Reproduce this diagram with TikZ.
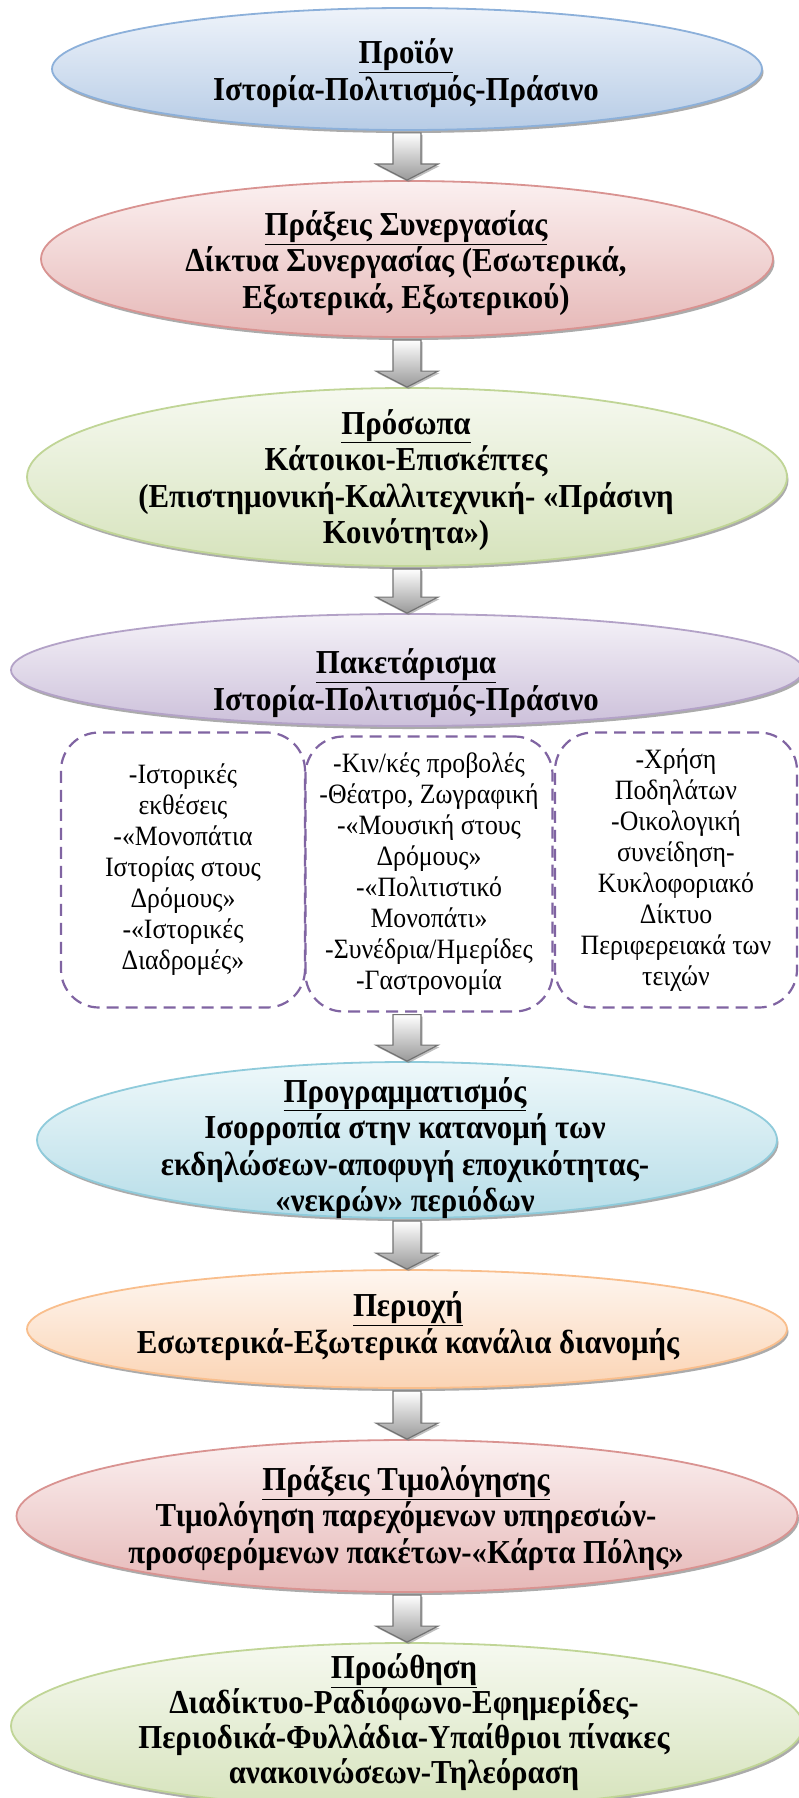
\documentclass[tikz,border=0pt]{standalone}
\usepackage{fontspec}
\setmainfont{Liberation Serif}[FakeStretch=0.92]
\usetikzlibrary{shapes.geometric,shadows,calc}
\definecolor{bluD}{HTML}{8CB0DA}\definecolor{bluT}{HTML}{EEF3FA}\definecolor{bluF}{HTML}{B7CCE6}
\definecolor{redD}{HTML}{D99391}\definecolor{redT}{HTML}{FBF0F0}\definecolor{redF}{HTML}{E6B8B7}
\definecolor{grnD}{HTML}{C0D596}\definecolor{grnT}{HTML}{F6F9F0}\definecolor{grnF}{HTML}{D6E3BC}
\definecolor{purD}{HTML}{B3A2C7}\definecolor{purT}{HTML}{F5F2F8}\definecolor{purF}{HTML}{CCC0DA}
\definecolor{aquD}{HTML}{8FCBDB}\definecolor{aquT}{HTML}{EEF8FA}\definecolor{aquF}{HTML}{B6DDE8}
\definecolor{orgD}{HTML}{F9BE8C}\definecolor{orgT}{HTML}{FEF6F0}\definecolor{orgF}{HTML}{FBD4B4}
\definecolor{dashP}{HTML}{8064A2}
\tikzset{
  ell/.style={ellipse, line width=1.8pt, inner sep=0pt,
    drop shadow={shadow xshift=1.5pt, shadow yshift=-3pt, fill=black!55, opacity=0.6}},
  eblue/.style={ell, draw=bluD, top color=bluT, bottom color=bluF},
  ered/.style={ell, draw=redD, top color=redT, bottom color=redF},
  egrn/.style={ell, draw=grnD, top color=grnT, bottom color=grnF},
  epur/.style={ell, draw=purD, top color=purT, bottom color=purF},
  eaqu/.style={ell, draw=aquD, top color=aquT, bottom color=aquF},
  eorg/.style={ell, draw=orgD, top color=orgT, bottom color=orgF},
  etext/.style={align=center, inner sep=0pt, font=\fontsize{33.5}{36.5}\selectfont\bfseries},
  dbox/.style={draw=dashP, dash pattern=on 12pt off 7pt, line width=2.2pt,
    rounded corners=38pt, align=center, inner sep=0pt,
    font=\fontsize{28}{31}\selectfont},
  barrow/.style={draw=black!55, line width=1.2pt, top color=white, bottom color=black!40,
    drop shadow={shadow xshift=1.5pt, shadow yshift=-2pt, fill=black!50, opacity=0.5}},
}
\newcommand\blockarr[2]{%
  \draw[barrow] let \p1=(#1), \p2=(#2) in
   (\x2-14pt,\y1-2pt) -- (\x2+14pt,\y1-2pt) -- (\x2+14pt,\y2+16pt) --
   (\x2+31pt,\y2+16pt) -- (\x2,\y2) -- (\x2-31pt,\y2+16pt) --
   (\x2-14pt,\y2+16pt) -- cycle;}
\begin{document}
\begin{tikzpicture}[x=1pt,y=-1pt]
\useasboundingbox (0,0) rectangle (798,1798);
\fill[white] (0,0) rectangle (798,1798);

\node[eblue, minimum width=710pt, minimum height=122pt] (e1) at (407,69) {};
\node[etext] (t1) at (406,73) {\underline{Προϊόν}\\Ιστορία-Πολιτισμός-Πράσινο};
\node[ered, minimum width=732pt, minimum height=156pt] (e2) at (407,259) {};
\node[etext] (t2) at (406,263) {\underline{Πράξεις Συνεργασίας}\\Δίκτυα Συνεργασίας (Εσωτερικά,\\Εξωτερικά, Εξωτερικού)};
\node[egrn, minimum width=760pt, minimum height=178pt] (e3) at (407,477) {};
\node[etext] (t3) at (406,480) {\underline{Πρόσωπα}\\Κάτοικοι-Επισκέπτες\\(Επιστημονική-Καλλιτεχνική- «Πράσινη\\Κοινότητα»)};
\node[epur, minimum width=792pt, minimum height=112pt] (e4) at (407,670) {};
\node[etext] (t4) at (406,683) {\underline{Πακετάρισμα}\\Ιστορία-Πολιτισμός-Πράσινο};

\node[dbox, minimum width=244pt, minimum height=275pt] (b1) at (183,870)
  {-Ιστορικές\\εκθέσεις\\-«Μονοπάτια\\Ιστορίας στους\\Δρόμους»\\-«Ιστορικές\\Διαδρομές»};
\node[dbox, minimum width=247pt, minimum height=275pt] (b2) at (429,874)
  {-Κιν/κές προβολές\\-Θέατρο, Ζωγραφική\\-«Μουσική στους\\Δρόμους»\\-«Πολιτιστικό\\Μονοπάτι»\\-Συνέδρια/Ημερίδες\\-Γαστρονομία};
\node[dbox, minimum width=242pt, minimum height=275pt] (b3) at (676,870)
  {-Χρήση\\Ποδηλάτων\\-Οικολογική\\συνείδηση-\\Κυκλοφοριακό\\Δίκτυο\\Περιφερειακά των\\τειχών};

\node[eaqu, minimum width=740pt, minimum height=156pt] (e5) at (407,1140) {};
\node[etext] (t5) at (405,1148) {\underline{Προγραμματισμός}\\Ισορροπία στην κατανομή των\\εκδηλώσεων-αποφυγή εποχικότητας-\\«νεκρών» περιόδων};
\node[eorg, minimum width=760pt, minimum height=118pt] (e6) at (407,1329) {};
\node[etext] (t6) at (408,1326) {\underline{Περιοχή}\\Εσωτερικά-Εξωτερικά κανάλια διανομής};
\node[ered, minimum width=781pt, minimum height=152pt] (e7) at (407,1516) {};
\node[etext] (t7) at (406,1518) {\underline{Πράξεις Τιμολόγησης}\\Τιμολόγηση παρεχόμενων υπηρεσιών-\\προσφερόμενων πακέτων-«Κάρτα Πόλης»};
\node[egrn, minimum width=792pt, minimum height=166pt] (e8) at (407,1726) {};
\node[etext, font=\fontsize{33.5}{35}\selectfont\bfseries] (t8) at (404,1722) {\underline{Προώθηση}\\Διαδίκτυο-Ραδιόφωνο-Εφημερίδες-\\Περιοδικά-Φυλλάδια-Υπαίθριοι πίνακες\\ανακοινώσεων-Τηλεόραση};

\blockarr{e1.south}{e2.north}
\blockarr{e2.south}{e3.north}
\blockarr{e3.south}{e4.north}
\blockarr{b2.south}{e5.north}
\blockarr{e5.south}{e6.north}
\blockarr{e6.south}{e7.north}
\blockarr{e7.south}{e8.north}
\end{tikzpicture}
\end{document}
